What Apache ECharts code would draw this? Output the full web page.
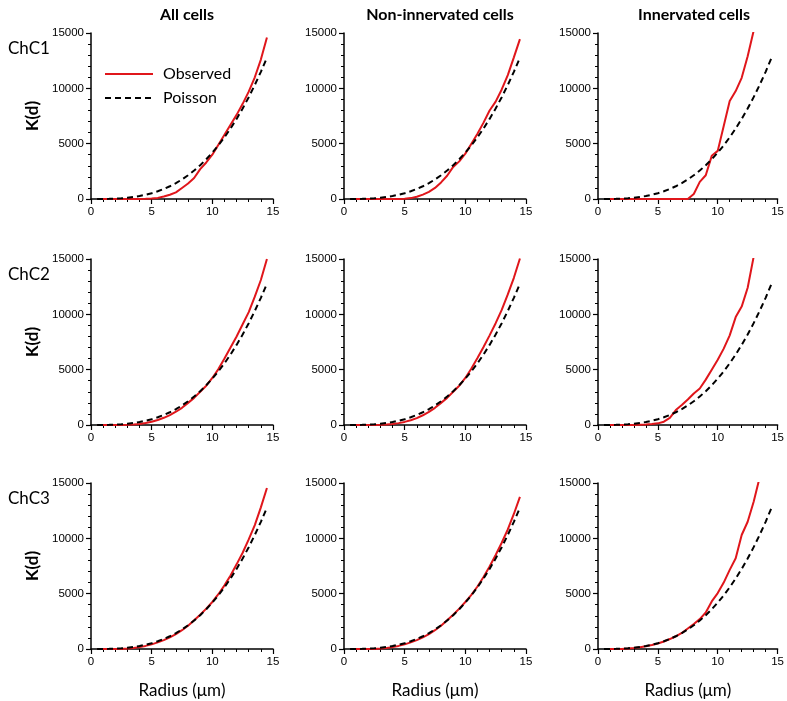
<!DOCTYPE html>
<html>
<head>
<meta charset="utf-8">
<script src="https://cdn.jsdelivr.net/npm/echarts@6/dist/echarts.min.js"></script>
<style>
html,body{margin:0;padding:0;background:#fff;}
#chart{width:787px;height:701px;}
</style>
</head>
<body>
<div id="chart"></div>
<script>
// ---- data ----
const colTitles = ['All cells', 'Non-innervated cells', 'Innervated cells'];
const rowTitles = ['ChC1', 'ChC2', 'ChC3'];
const xTicks = [0, 5, 10, 15];
const yTicks = [0, 5000, 10000, 15000];

const radius = [0.5,1,1.5,2,2.5,3,3.5,4,4.5,5,5.5,6,6.5,7,7.5,8,8.5,9,9.5,10,10.5,11,11.5,12,12.5,13,13.5,14,14.5];

// Poisson expectation (dashed)
const poisson = [1,4,14,34,65,113,180,268,382,524,697,905,1150,1437,1767,2145,2572,3054,3591,4189,4849,5575,6371,7238,8181,9203,10306,11494,12770];

// Observed (red) curves
const obsChC1All = [0,0,0,0,0,0,0,5,15,40,100,220,380,600,1000,1400,1900,2700,3300,4000,4900,5800,6700,7600,8600,9700,11000,12600,14600];
const obsChC1Non = [0,0,0,0,0,0,0,0,0,20,80,200,400,650,1000,1500,2100,2900,3400,4100,5000,5900,6900,8000,8800,9900,11200,12800,14450];
const obsChC1Inn = [0,0,0,0,0,0,0,0,0,0,0,0,0,0,0,450,1550,2150,3900,4350,6600,8850,9750,10950,12900,15200];

const obsChC2All = [0,0,0,0,5,20,50,100,180,300,450,650,900,1200,1550,2000,2450,3000,3550,4250,5050,6000,7000,8000,9100,10200,11600,13100,15000];
const obsChC2Non = [0,0,0,0,5,20,50,100,170,280,430,620,880,1180,1550,2000,2450,3000,3550,4250,5100,6050,7050,8100,9200,10400,11800,13300,15050];
const obsChC2Inn = [0,0,0,0,0,10,20,40,80,150,300,650,1350,1800,2300,2850,3300,4100,5000,5900,6900,8100,9750,10700,12400,15200];

const obsChC3All = [0,0,0,0,10,40,90,170,280,420,600,800,1050,1350,1700,2100,2600,3100,3650,4250,4950,5750,6650,7650,8700,9900,11200,12800,14550];
const obsChC3Non = [0,0,0,0,10,40,90,170,280,420,600,800,1050,1350,1700,2100,2600,3100,3650,4250,4900,5650,6500,7450,8500,9600,10800,12200,13750];
const obsChC3Inn = [0,0,0,10,40,90,160,250,360,500,680,900,1150,1450,1850,2250,2700,3300,4300,5050,6000,7150,8200,10300,11500,13300,15500];

const observed = [
  [obsChC1All, obsChC1Non, obsChC1Inn],
  [obsChC2All, obsChC2Non, obsChC2Inn],
  [obsChC3All, obsChC3Non, obsChC3Inn]
];

// ---- layout ----
const colLeft = [91, 344, 598];
const gridW = 182;
const rowTop = [33, 259, 483];
const gridH = 166;

const calibri = 'Lato, "Open Sans", sans-serif';
const arial = '"Liberation Sans", Arial, sans-serif';

const grids = [], xAxes = [], yAxes = [], series = [], titles = [];
function pairs(vals){ return vals.map((v,i)=>[radius[i], v]); }

for (let r = 0; r < 3; r++) {
  for (let c = 0; c < 3; c++) {
    const idx = r*3 + c;
    grids.push({left: colLeft[c], top: rowTop[r], width: gridW, height: gridH});
    xAxes.push({
      type: 'value', gridIndex: idx, min: xTicks[0], max: xTicks[xTicks.length-1], interval: 5,
      axisLine: {lineStyle: {color: '#000', width: 1.5}},
      axisTick: {show: true, length: 5, lineStyle: {color: '#000', width: 1.2}},
      minorTick: {show: true, splitNumber: 5, length: 3, lineStyle: {color: '#000', width: 1}},
      splitLine: {show: false},
      axisLabel: {color: '#000', fontSize: 11.5, fontFamily: arial, margin: 7, formatter: v => String(v)},
      name: r === 2 ? 'Radius (\u03bcm)' : '',
      nameLocation: 'middle', nameGap: 33,
      nameTextStyle: {color: '#000', fontSize: 17, fontFamily: calibri}
    });
    yAxes.push({
      type: 'value', gridIndex: idx, min: yTicks[0], max: yTicks[yTicks.length-1], interval: 5000,
      axisLine: {show: true, lineStyle: {color: '#000', width: 1.5}},
      axisTick: {show: true, length: 5, lineStyle: {color: '#000', width: 1.2}},
      minorTick: {show: true, splitNumber: 5, length: 3, lineStyle: {color: '#000', width: 1}},
      splitLine: {show: false},
      axisLabel: {color: '#000', fontSize: 11.5, fontFamily: arial, margin: 7, formatter: v => String(v)},
      name: c === 0 ? 'K(d)' : '',
      nameLocation: 'middle', nameGap: 50,
      nameTextStyle: {color: '#000', fontSize: 17, fontWeight: 'bold', fontFamily: calibri}
    });
    series.push({
      name: 'Observed', type: 'line', xAxisIndex: idx, yAxisIndex: idx,
      data: pairs(observed[r][c]), symbol: 'none', clip: true, z: 3,
      lineStyle: {color: '#e0161b', width: 2}, itemStyle: {color: '#e0161b'}
    });
    series.push({
      name: 'Poisson', type: 'line', xAxisIndex: idx, yAxisIndex: idx,
      data: pairs(poisson), symbol: 'none', clip: true, z: 4,
      lineStyle: {color: '#000', width: 2, type: [6, 4]}, itemStyle: {color: '#000'}
    });
  }
}

for (let c = 0; c < 3; c++) {
  titles.push({
    text: colTitles[c], left: colLeft[c] + gridW/2, top: 2, textAlign: 'center',
    textStyle: {fontSize: 16, fontWeight: 'bold', fontFamily: calibri, color: '#000'}
  });
}
for (let r = 0; r < 3; r++) {
  titles.push({
    text: rowTitles[r], left: 3, top: rowTop[r] + 2,
    textStyle: {fontSize: 17, fontWeight: 'normal', fontFamily: calibri, color: '#000'}
  });
}

const chart = echarts.init(document.getElementById('chart'), null, {renderer: 'canvas'});
chart.setOption({
  animation: false,
  backgroundColor: '#fff',
  title: titles,
  legend: {
    data: ['Observed', 'Poisson'], orient: 'vertical', left: 104, top: 66,
    itemWidth: 48, itemHeight: 14, itemGap: 8, padding: 0,
    itemStyle: {opacity: 0},
    textStyle: {fontSize: 16, fontFamily: calibri, color: '#000', padding: [0,0,0,5]}
  },
  grid: grids,
  xAxis: xAxes,
  yAxis: yAxes,
  series: series
});
</script>
</body>
</html>
